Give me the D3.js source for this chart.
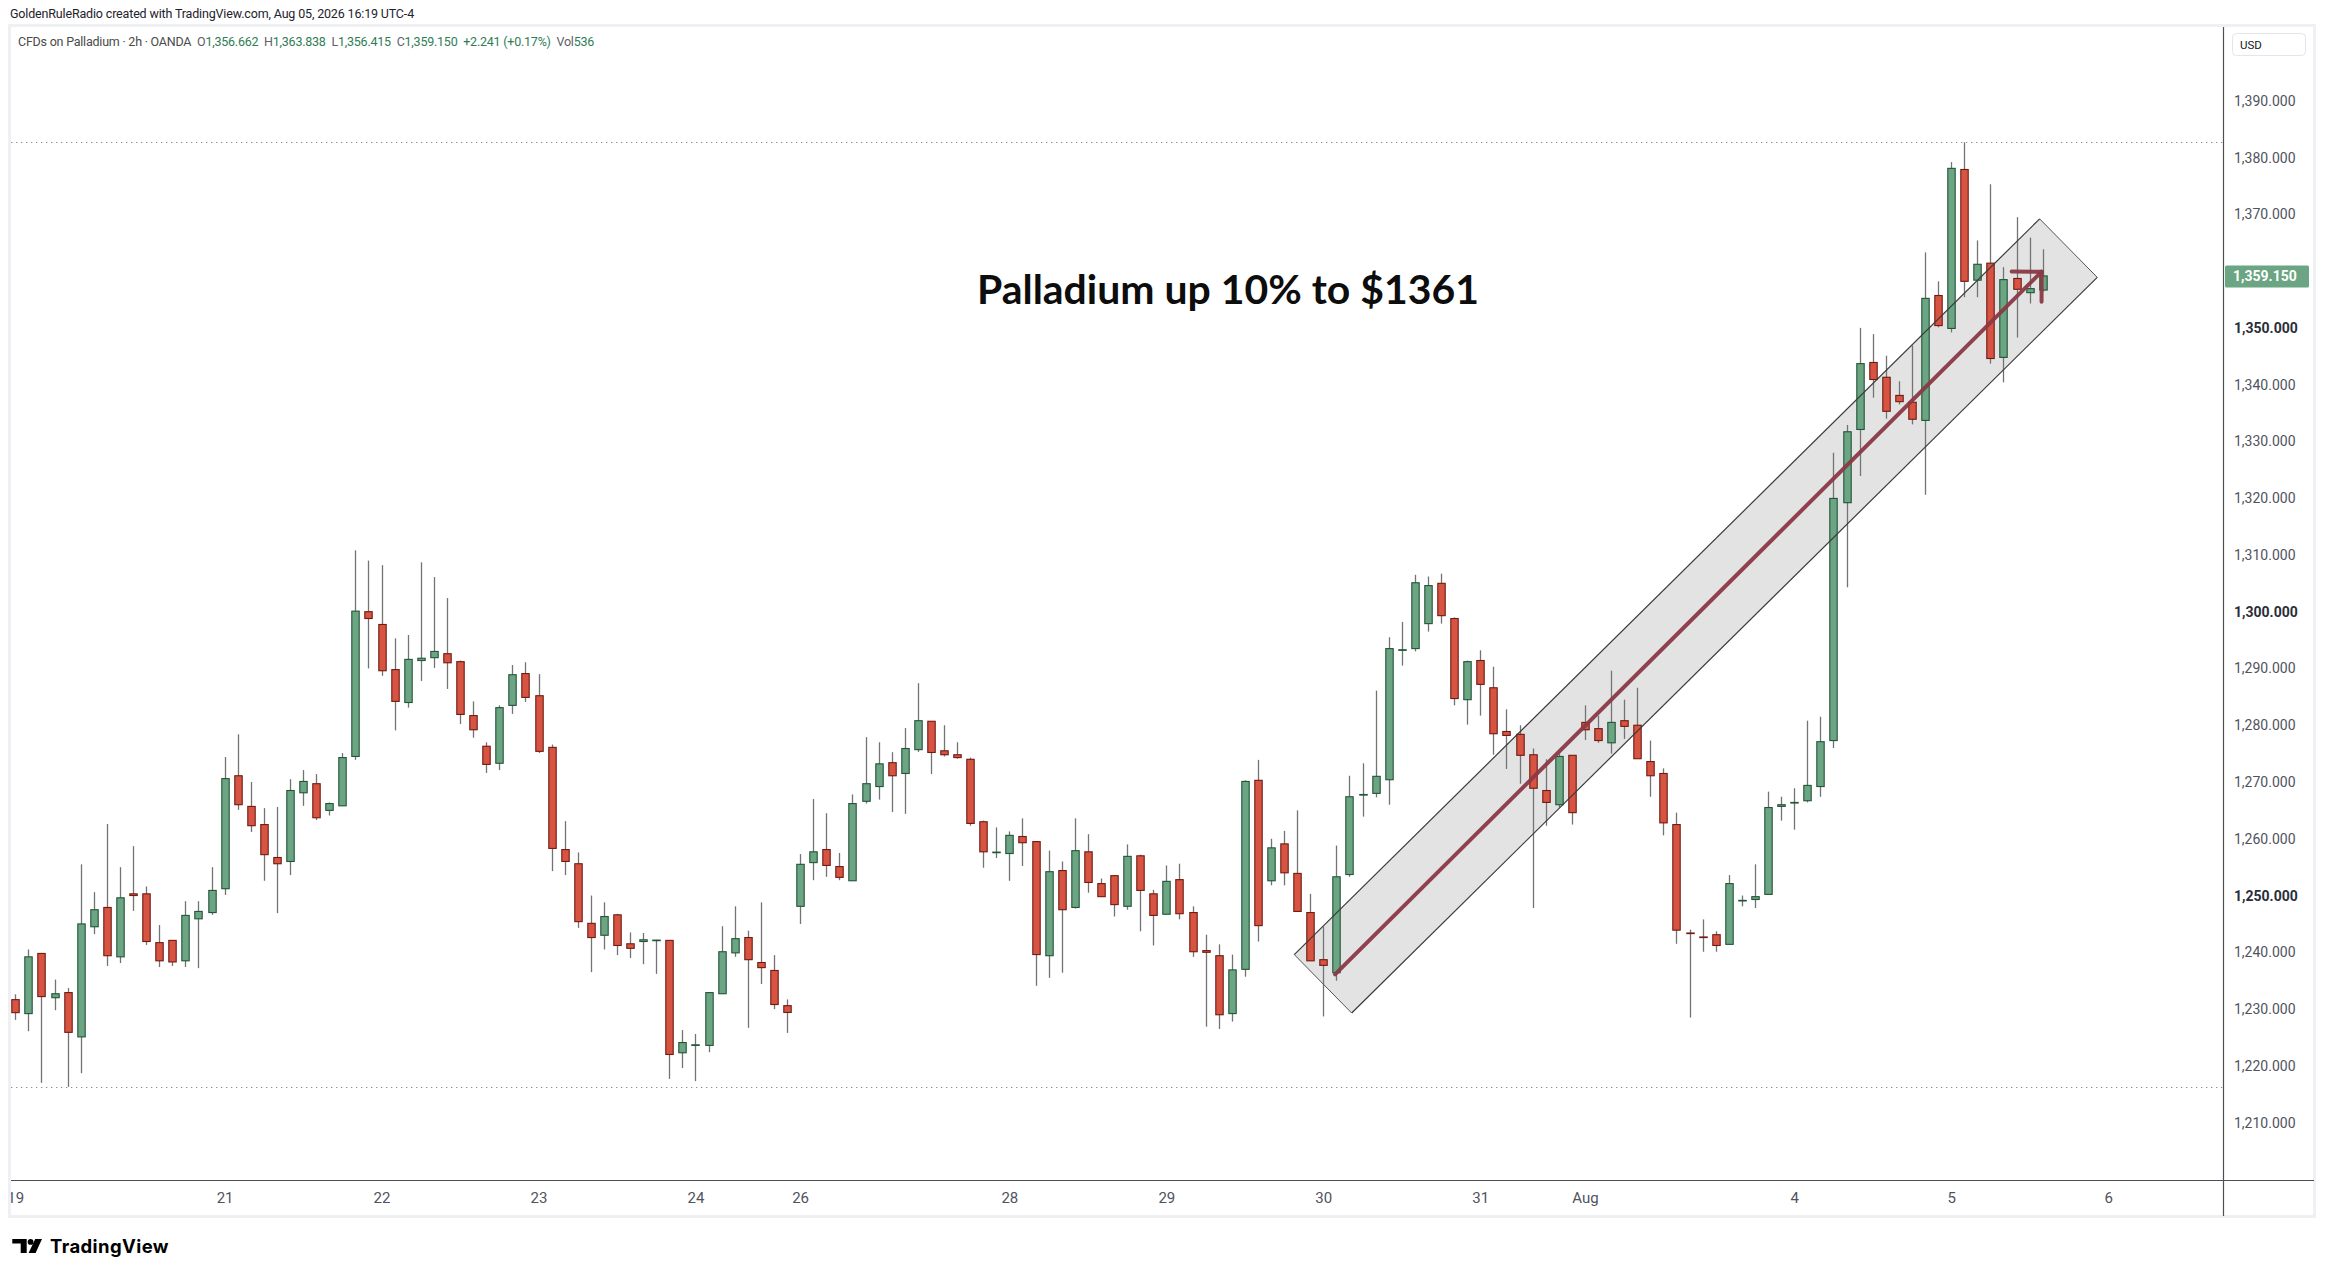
<!DOCTYPE html>
<html><head><meta charset="utf-8">
<script src="https://cdn.jsdelivr.net/npm/d3@7"></script>
<style>body{margin:0;background:#fff}svg{display:block}</style>
</head><body>
<svg id="c" width="2325" height="1276"></svg>
<script>
// ---- data (2h candles, bar index 0..155) ----
const O=[1231.66,1229.2,1239.8,1232.0,1232.9,1225.1,1244.5,1247.9,1239.2,1250.3,
1250.3,1241.7,1242.1,1238.5,1245.9,1247.0,1251.2,1271.1,1265.7,1262.5,
1256.7,1256.0,1268.1,1269.7,1265.0,1265.8,1274.5,1300.0,1297.75,1289.8,
1284.0,1291.4,1291.9,1292.6,1291.2,1281.7,1276.3,1273.3,1283.5,1289.1,
1285.2,1276.1,1258.1,1255.6,1245.1,1243.0,1246.6,1241.5,1241.9,1242.1,
1242.1,1222.3,1223.65,1223.6,1232.7,1239.9,1242.6,1238.2,1236.8,1230.6,
1248.1,1255.8,1258.1,1255.1,1252.6,1266.6,1269.2,1273.4,1271.5,1275.7,
1280.7,1275.5,1274.8,1274.0,1263.0,1257.6,1257.4,1260.4,1259.5,1239.4,
1254.4,1247.9,1257.7,1252.1,1253.5,1248.1,1257.0,1250.3,1246.7,1252.8,
1247.0,1240.3,1239.4,1229.2,1237.0,1270.3,1252.6,1259.1,1253.9,1247.0,
1238.7,1236.4,1253.7,1267.75,1268.0,1270.4,1293.25,1293.5,1297.9,1305.0,
1298.8,1284.5,1291.4,1286.6,1278.9,1278.4,1274.8,1268.5,1266.0,1274.7,
1280.5,1279.4,1276.9,1280.8,1280.0,1273.6,1271.5,1262.5,1243.4,1242.7,
1243.1,1241.4,1249.1,1249.3,1250.2,1265.7,1266.3,1266.7,1269.2,1277.3,
1319.2,1332.1,1343.9,1341.3,1338.1,1336.9,1333.7,1355.7,1349.9,1377.9,
1358.4,1361.4,1344.8,1358.7,1356.2,1356.662];
const H=[1232.6,1240.5,1239.9,1235.2,1233.7,1255.5,1250.6,1262.6,1255.0,1258.7,
1251.6,1244.8,1242.1,1249.0,1249.0,1255.0,1274.4,1278.4,1270.0,1265.4,
1265.6,1270.5,1272.1,1271.4,1266.4,1275.1,1310.8,1309.0,1308.2,1295.3,
1295.9,1308.7,1306.1,1302.4,1291.4,1284.2,1277.0,1283.5,1290.6,1291.1,
1289.0,1276.6,1263.1,1257.6,1250.0,1248.8,1246.8,1243.5,1243.4,1242.2,
1242.1,1226.3,1225.6,1232.9,1244.6,1248.1,1243.8,1248.8,1239.5,1231.7,
1257.3,1267.0,1264.5,1257.5,1267.8,1277.9,1277.0,1275.25,1279.5,1287.4,
1280.7,1280.0,1277.0,1274.3,1263.2,1262.0,1261.3,1263.6,1259.5,1257.9,
1256.0,1263.6,1260.8,1253.0,1253.5,1259.0,1257.2,1251.0,1255.3,1255.6,
1248.1,1243.1,1241.4,1239.6,1270.3,1273.9,1260.0,1261.4,1265.0,1250.3,
1244.5,1258.8,1271.1,1273.3,1286.1,1295.5,1298.2,1306.5,1306.2,1306.7,
1299.0,1291.4,1293.2,1290.3,1282.8,1280.0,1275.9,1274.0,1275.0,1274.7,
1283.5,1281.7,1289.6,1284.5,1286.6,1277.3,1272.4,1264.6,1244.0,1245.8,
1243.7,1253.6,1250.0,1255.5,1268.3,1267.4,1268.9,1280.8,1281.5,1328.0,
1332.9,1350.0,1348.9,1345.1,1340.6,1346.9,1363.3,1358.2,1379.2,1382.7,
1365.4,1375.3,1360.7,1369.5,1365.9,1363.838];
const L=[1228.1,1226.1,1217.0,1229.8,1216.3,1218.7,1243.2,1237.6,1238.1,1247.3,
1241.3,1237.4,1237.6,1237.4,1237.2,1246.6,1250.1,1265.1,1261.2,1252.6,
1246.9,1253.6,1265.8,1263.3,1264.1,1265.8,1273.9,1290.0,1288.7,1279.1,
1283.1,1287.8,1290.1,1286.4,1280.2,1277.8,1271.6,1272.1,1282.0,1284.1,
1275.1,1254.3,1253.6,1244.3,1236.5,1240.5,1239.5,1239.0,1237.9,1236.2,
1217.7,1219.6,1217.3,1222.4,1232.7,1239.2,1226.7,1234.4,1230.0,1225.8,
1245.0,1252.7,1253.3,1252.7,1252.6,1266.2,1266.9,1264.7,1264.4,1275.3,
1271.4,1274.5,1274.1,1262.3,1254.9,1256.6,1252.6,1255.2,1234.1,1235.5,
1236.4,1247.7,1250.5,1249.8,1246.3,1247.5,1243.7,1241.2,1246.7,1245.8,
1239.2,1226.9,1226.5,1227.8,1235.7,1241.9,1251.8,1251.8,1247.2,1238.5,
1228.7,1235.0,1253.3,1263.9,1267.3,1266.0,1290.5,1293.0,1296.5,1297.9,
1283.5,1280.1,1281.7,1274.8,1272.3,1269.7,1247.8,1262.3,1265.5,1262.5,
1277.4,1276.9,1275.0,1277.6,1274.1,1267.4,1260.6,1241.5,1228.5,1240.1,
1240.1,1241.4,1248.1,1247.8,1250.2,1263.2,1261.6,1266.4,1267.4,1276.0,
1304.3,1323.9,1337.7,1334.0,1336.5,1333.0,1320.6,1350.1,1349.2,1355.4,
1355.4,1343.7,1340.4,1348.3,1354.3,1356.415];
const C=[1229.37,1239.2,1232.2,1232.7,1225.9,1245.0,1247.5,1239.4,1249.6,1250.0,
1241.9,1238.5,1238.3,1246.5,1247.2,1250.9,1270.6,1266.0,1262.3,1257.2,
1255.6,1268.5,1270.1,1263.7,1266.2,1274.3,1300.1,1298.8,1289.6,1284.2,
1291.6,1291.8,1293.0,1291.0,1281.9,1279.2,1273.1,1283.1,1288.9,1284.9,
1275.4,1258.3,1256.0,1245.4,1242.6,1246.3,1241.2,1240.7,1242.2,1242.15,
1222.0,1224.1,1223.7,1232.9,1240.1,1242.4,1238.7,1237.3,1230.8,1229.4,
1255.5,1257.7,1255.3,1253.2,1266.2,1269.7,1273.2,1271.1,1275.9,1280.8,
1275.2,1274.8,1274.3,1262.7,1257.7,1257.65,1260.6,1259.3,1239.6,1254.2,
1247.5,1257.9,1252.3,1249.8,1248.4,1256.9,1250.9,1246.5,1252.5,1246.8,
1240.1,1240.0,1229.0,1236.9,1270.1,1244.7,1258.4,1254.0,1247.2,1238.5,
1237.7,1253.3,1267.4,1267.8,1271.0,1293.5,1293.3,1305.1,1304.6,1299.3,
1284.7,1291.2,1287.2,1278.5,1278.2,1274.7,1268.9,1266.4,1274.5,1264.6,
1279.2,1277.3,1280.5,1279.8,1274.1,1271.1,1262.8,1243.9,1243.35,1242.65,
1241.2,1252.1,1249.15,1249.8,1265.5,1266.0,1266.4,1269.4,1277.1,1319.95,
1331.7,1343.7,1340.9,1335.3,1337.0,1333.9,1355.2,1350.4,1378.1,1358.2,
1361.2,1344.6,1358.5,1356.8,1356.909,1359.150];

const timeLabels=["19","21","22","23","24","26","28","29","30","31","Aug","4","5","6"];
const timeLabelBars=[0,16,28,40,52,60,76,88,100,112,120,136,148,160];
// 1,360.000 is hidden behind the last-price label, as in the reference
const priceTicks=[1210,1220,1230,1240,1250,1260,1270,1280,1290,1300,1310,1320,1330,1340,1350,1370,1380,1390];
const strongTicks=[1250,1300,1350];
const lastPrice=1359.150;
const channelPts=[[97.78,1239.6],[154.77,1369.2],[159.17,1358.9],[102.17,1229.3]];
const arrowPts=[[100.9,1236.1],[154.92,1359.9]];
const noteText="Palladium up 10% to $1361";
const headerText="GoldenRuleRadio created with TradingView.com, Aug 05, 2026 16:19 UTC-4";
const legendTitle="CFDs on Palladium · 2h · OANDA";
const legendKeys=["O","H","L","C","","Vol"];
const legendVals=["1,356.662","1,363.838","1,356.415","1,359.150","+2.241 (+0.17%)","536"];

// ---- layout ----
const PL=11, PR=2223, PT=27, PB=1180;
const UP="#6ba583", UPB="#225437", DN="#d75442", DNB="#6f1a12", WICK="#737373";
const svg=d3.select("#c");
const x=d3.scaleLinear().domain([0,155]).range([15.3,15.3+155*13.08]);
const y=d3.scaleLinear().domain([1210,1390]).range([1122.6,100.8]);

svg.append("rect").attr("width",2325).attr("height",1276).attr("fill","#fff");
svg.append("rect").attr("x",9.5).attr("y",25.5).attr("width",2305).attr("height",1191)
  .attr("fill","none").attr("stroke","#eef0f3").attr("stroke-width",3);

const defs=svg.append("defs");
defs.append("clipPath").attr("id","plot").append("rect")
  .attr("x",PL).attr("y",PT).attr("width",PR-PL).attr("height",PB-PT);
defs.append("clipPath").attr("id","tax").append("rect")
  .attr("x",PL).attr("y",0).attr("width",PR-PL).attr("height",40);

const plot=svg.append("g").attr("clip-path","url(#plot)");
const line=d3.line().x(d=>x(d[0])).y(d=>y(d[1]));
plot.append("path").attr("d",line(channelPts)+"Z").attr("fill","#e3e3e3").attr("stroke","none");

const hi=d3.max(H), lo=d3.min(L);
[hi,lo].forEach(v=>{
  plot.append("line").attr("x1",PL).attr("x2",PR).attr("y1",Math.round(y(v))+0.5).attr("y2",Math.round(y(v))+0.5)
   .attr("stroke","#8a8d96").attr("stroke-width",1.2).attr("stroke-dasharray","1.3,3.7");
});

const idx=d3.range(O.length);
const cg=plot.append("g");
cg.selectAll("line.w").data(idx).join("line")
  .attr("x1",i=>Math.round(x(i))+0.5).attr("x2",i=>Math.round(x(i))+0.5)
  .attr("y1",i=>y(H[i])).attr("y2",i=>y(L[i]))
  .attr("stroke",WICK).attr("stroke-width",1.3);
cg.selectAll("rect.b").data(idx).join("rect")
  .attr("x",i=>Math.round(x(i))+0.5-3.7).attr("width",7.4)
  .attr("y",i=>y(Math.max(O[i],C[i])))
  .attr("height",i=>Math.max(0.6,Math.abs(y(O[i])-y(C[i]))))
  .attr("fill",i=>C[i]>=O[i]?UP:DN)
  .attr("stroke",i=>C[i]>=O[i]?UPB:DNB).attr("stroke-width",1.1);

const e1=[channelPts[0],channelPts[1]], e2=[channelPts[3],channelPts[2]];
const e3=[channelPts[1],channelPts[2]], e4=[channelPts[0],channelPts[3]];
[e1,e2].forEach(e=>plot.append("path").attr("d",line(e)).attr("stroke","#3a3a3a").attr("stroke-width",1.2).attr("fill","none"));
[e3,e4].forEach(e=>plot.append("path").attr("d",line(e)).attr("stroke","#555").attr("stroke-width",1).attr("fill","none"));

const ax0=x(arrowPts[0][0]), ay0=y(arrowPts[0][1]), ax1=x(arrowPts[1][0]), ay1=y(arrowPts[1][1]);
const ang=Math.atan2(ay1-ay0,ax1-ax0), hl=30;
const AC="#8b3a45";
plot.append("line").attr("x1",ax0).attr("y1",ay0).attr("x2",ax1).attr("y2",ay1)
  .attr("stroke",AC).attr("stroke-width",4).attr("stroke-linecap","round").attr("opacity",0.95);
[Math.PI*0.75,-Math.PI*0.75].forEach(a=>{
  plot.append("line").attr("x1",ax1).attr("y1",ay1)
   .attr("x2",ax1+hl*Math.cos(ang+a)).attr("y2",ay1+hl*Math.sin(ang+a))
   .attr("stroke",AC).attr("stroke-width",4).attr("stroke-linecap","round").attr("opacity",0.95);
});

// annotation
const note=svg.append("text").attr("x",977).attr("y",304)
  .attr("font-family","Lato, 'Open Sans', sans-serif").attr("font-weight",700)
  .attr("font-size",38).attr("fill","#0d0d0d").text(noteText);
const nw=note.node().getComputedTextLength();
note.attr("font-size",38*502/nw);

// axis lines
svg.append("line").attr("x1",PR+0.5).attr("x2",PR+0.5).attr("y1",PT).attr("y2",1216).attr("stroke","#4d4f55").attr("stroke-width",1.2);
svg.append("line").attr("x1",PL).attr("x2",2314).attr("y1",PB+0.5).attr("y2",PB+0.5).attr("stroke","#4d4f55").attr("stroke-width",1.2);

// price axis
const ya=svg.append("g").attr("transform",`translate(${PR},0)`)
  .call(d3.axisRight(y).tickValues(priceTicks).tickFormat(d3.format(",.3f")).tickSize(0).tickPadding(11));
ya.select(".domain").remove();
ya.selectAll("text").attr("font-family","Roboto, sans-serif").attr("font-size",14)
  .attr("fill",d=>strongTicks.includes(d)?"#2a2e39":"#50535e")
  .attr("font-weight",d=>strongTicks.includes(d)?700:400);

const ly=y(lastPrice);
svg.append("rect").attr("x",PR+2).attr("y",ly-10.5).attr("width",84).attr("height",22).attr("rx",1.5).attr("fill",UP);
svg.append("text").attr("x",PR+10).attr("y",ly+5.5).attr("font-family","Roboto, sans-serif")
  .attr("font-size",14).attr("font-weight",700).attr("fill","#fff").text(d3.format(",.3f")(lastPrice));

svg.append("rect").attr("x",2232.5).attr("y",33.5).attr("width",73).attr("height",22).attr("rx",4)
  .attr("fill","#fff").attr("stroke","#e3e5ea");
svg.append("text").attr("x",2240).attr("y",49).attr("font-family","Roboto, sans-serif").attr("font-size",11.5)
  .attr("fill","#131722").text("USD");

// time axis
const xa=svg.append("g").attr("transform",`translate(0,${PB})`).attr("clip-path","url(#tax)");
xa.append("g").call(d3.axisBottom(x).tickValues(timeLabelBars).tickFormat((d,i)=>timeLabels[i]).tickSize(0).tickPadding(12))
  .call(g=>g.select(".domain").remove())
  .selectAll("text").attr("font-family","Roboto, sans-serif").attr("font-size",15).attr("fill","#50535e");

// fit helper: squeeze with letter-spacing (keeps real glyph boxes)
function fit(t,target){
  const w=t.node().getComputedTextLength();
  const n=t.text().length;
  t.attr("letter-spacing",((target-w)/n).toFixed(3)+"px");
}

// header
const ht=svg.append("text").attr("x",10).attr("y",18).attr("font-family","Roboto, sans-serif").attr("font-size",12.5)
  .attr("fill","#1e222d").text(headerText);
fit(ht,404);

// legend (one text line)
const lt=svg.append("text").attr("x",18).attr("y",46).attr("font-family","Roboto, sans-serif").attr("font-size",12.5);
lt.append("tspan").attr("fill","#4a4a4a").text(legendTitle);
legendVals.forEach((v,i)=>{
  lt.append("tspan").attr("fill","#5d606b").text("\u00a0\u00a0"+legendKeys[i]);
  lt.append("tspan").attr("fill","#2f7d55").text(v);
});
fit(lt,576);

// logo
const lg=svg.append("g").attr("fill","#000");
lg.append("path").attr("d","M12.3,1239 H26.7 V1253 H20.7 V1243.4 H12.3 Z");
lg.append("circle").attr("cx",30.6).attr("cy",1241.9).attr("r",2.9);
lg.append("path").attr("d","M35.2,1239 H42 L35.6,1253 H28.6 Z");
const tv=svg.append("text").attr("x",50).attr("y",1253).attr("font-family","Inter, sans-serif").attr("font-weight",700)
  .attr("font-size",18.5).attr("fill","#000").text("TradingView");
fit(tv,119);
</script>
</body></html>
